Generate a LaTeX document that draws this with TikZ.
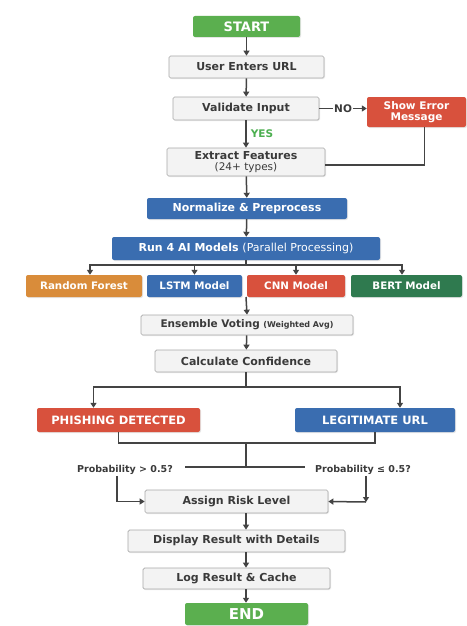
\documentclass[tikz,border=0pt]{standalone}
\usepackage{fontspec}
\setmainfont{DejaVu Sans}
\usetikzlibrary{arrows.meta,shadows}
\definecolor{cgreen}{HTML}{5BAF4F}
\definecolor{cblue}{HTML}{3A6DB0}
\definecolor{corange}{HTML}{D98C3A}
\definecolor{cred}{HTML}{D8513D}
\definecolor{cdgreen}{HTML}{2F7A4F}
\definecolor{cgray}{HTML}{F3F3F3}
\definecolor{cborder}{HTML}{A8A8A8}
\definecolor{ctext}{HTML}{3A3A3A}
\definecolor{carrow}{HTML}{444444}
\definecolor{cyes}{HTML}{4CAF50}
\begin{document}
\begin{tikzpicture}[x=1pt,y=-1pt,
  box/.style={draw=cborder, fill=cgray, rounded corners=1.5pt, text=ctext,
    font=\bfseries\fontsize{11}{12}\selectfont, inner sep=0pt, line width=0.7pt,
    drop shadow={opacity=0.15, shadow xshift=1pt, shadow yshift=-1pt}},
  cbox/.style={fill=#1, rounded corners=2pt, text=white,
    font=\bfseries\fontsize{11}{12}\selectfont, inner sep=0pt,
    drop shadow={opacity=0.2, shadow xshift=1pt, shadow yshift=-1pt}},
  arr/.style={-{Triangle[length=5pt,width=6pt]}, draw=carrow, line width=1.5pt},
  ln/.style={draw=carrow, line width=1.5pt},
  lbl/.style={font=\bfseries\fontsize{9.5}{11}\selectfont, text=ctext, inner sep=1pt}]
\useasboundingbox (0,0) rectangle (466,626);
\fill[white] (0,0) rectangle (466,626);

% nodes
\node[cbox=cgreen, minimum width=107pt, minimum height=21pt, font=\bfseries\fontsize{13}{14}\selectfont] (start) at (246.5,26.5) {START};
\node[box, minimum width=155pt, minimum height=22pt] (user) at (246.5,67) {User Enters URL};
\node[box, minimum width=146pt, minimum height=23pt] (valid) at (246,108.5) {Validate Input};
\node[cbox=cred, minimum width=99pt, minimum height=30pt, align=center,
  font=\bfseries\fontsize{10.5}{10.5}\selectfont] (err) at (416.5,112) {Show Error\\Message};
\node[box, minimum width=158pt, minimum height=28pt, align=center, font=\bfseries\fontsize{11}{11}\selectfont] (extract) at (246,162)
  {Extract Features\\{\mdseries\fontsize{10.5}{11}\selectfont (24+ types)}};
\node[cbox=cblue, minimum width=200pt, minimum height=21pt] (norm) at (247,208.5) {Normalize \& Preprocess};
\node[cbox=cblue, minimum width=268pt, minimum height=23pt] (run) at (246,248.5)
  {Run 4 AI Models {\mdseries\fontsize{11}{12}\selectfont(Parallel Processing)}};
\node[cbox=corange, minimum width=116pt, minimum height=22pt, font=\bfseries\fontsize{10.3}{11}\selectfont] (rf) at (84,286) {Random Forest};
\node[cbox=cblue, minimum width=95pt, minimum height=22pt, font=\bfseries\fontsize{10.3}{11}\selectfont] (lstm) at (194.5,286) {LSTM Model};
\node[cbox=cred, minimum width=98pt, minimum height=22pt, font=\bfseries\fontsize{10.3}{11}\selectfont] (cnn) at (296,286) {CNN Model};
\node[cbox=cdgreen, minimum width=111pt, minimum height=22pt, font=\bfseries\fontsize{10.3}{11}\selectfont] (bert) at (406.5,286) {BERT Model};
\node[box, minimum width=212pt, minimum height=20pt, font=\bfseries\fontsize{10.5}{11}\selectfont] (ens) at (247,325)
  {Ensemble Voting {\fontsize{8}{9}\selectfont(Weighted Avg)}};
\node[box, minimum width=182pt, minimum height=22pt] (calc) at (246,361) {Calculate Confidence};
\node[cbox=cred, minimum width=163pt, minimum height=24pt, font=\bfseries\fontsize{11.5}{12}\selectfont] (phish) at (118.5,420) {PHISHING DETECTED};
\node[cbox=cblue, minimum width=160pt, minimum height=24pt, font=\bfseries\fontsize{11.5}{12}\selectfont] (legit) at (375,420) {LEGITIMATE URL};
\node[lbl] (plow) at (125,470) {Probability > 0.5?};
\node[lbl] (phigh) at (363,470) {Probability ≤ 0.5?};
\node[box, minimum width=183pt, minimum height=23pt] (assign) at (236.5,501.5) {Assign Risk Level};
\node[box, minimum width=217pt, minimum height=22pt] (disp) at (236.5,541) {Display Result with Details};
\node[box, minimum width=187pt, minimum height=21pt] (log) at (236.5,578.5) {Log Result \& Cache};
\node[cbox=cgreen, minimum width=123pt, minimum height=22pt, font=\bfseries\fontsize{15}{16}\selectfont] (end) at (246.5,614) {END};

% coordinates
\coordinate (rb) at (246,265);
\coordinate (mj) at (246,297);
\coordinate (cb) at (246,387);
\coordinate (jn) at (246,443);
\coordinate (jd) at (246,467);
\coordinate (hl) at (185,467);
\coordinate (hr) at (305,467);
\coordinate (rk) at (366,502);

% connectors
\draw[arr] (start) -- (user);
\draw[arr] (user) -- (valid);
\draw[arr] (valid) -- node[right, font=\bfseries\fontsize{10.5}{11}\selectfont, text=cyes, inner sep=4pt] {YES} (extract);
\draw[arr] (valid.east) -- node[fill=white, inner sep=1pt, font=\bfseries\fontsize{10.5}{11}\selectfont, text=ctext] {NO} (valid.east -| err.west);
\draw[ln] ([xshift=8pt]err.south) |- ([yshift=-3pt]extract.east);
\draw[arr] (extract) -- (norm);
\draw[arr] (norm) -- (run);
\draw[ln] (run.south) -- (rb);
\draw[arr] (rb) -| ([xshift=6pt]rf.north);
\draw[arr] (rb) -| (lstm.north);
\draw[arr] (rb) -| (cnn.north);
\draw[arr] (rb) -| ([xshift=-4.5pt]bert.north);
\draw[arr] (mj) -- (ens.north);
\draw[arr] (ens) -- (calc);
\draw[ln] (calc.south) -- (cb);
\draw[arr] (cb) -| ([xshift=-25pt]phish.north);
\draw[arr] (cb) -| ([xshift=25pt]legit.north);
\draw[ln] (phish.south) |- (jn);
\draw[ln] (legit.south) |- (jn);
\draw[ln] (jn) -- (jd);
\draw[ln] (hl) -- (hr);
\draw[arr] ([xshift=-8pt]plow.south) |- (assign.west);
\draw[arr] ([xshift=3pt]phigh.south) -- (rk);
\draw[arr] (rk) -- (assign.east);
\draw[arr] (assign.south -| jn) -- (disp.north -| jn);
\draw[arr] (disp.south -| jn) -- (log.north -| jn);
\draw[arr] (log.south -| jn) -- (end.north -| jn);
\end{tikzpicture}
\end{document}
